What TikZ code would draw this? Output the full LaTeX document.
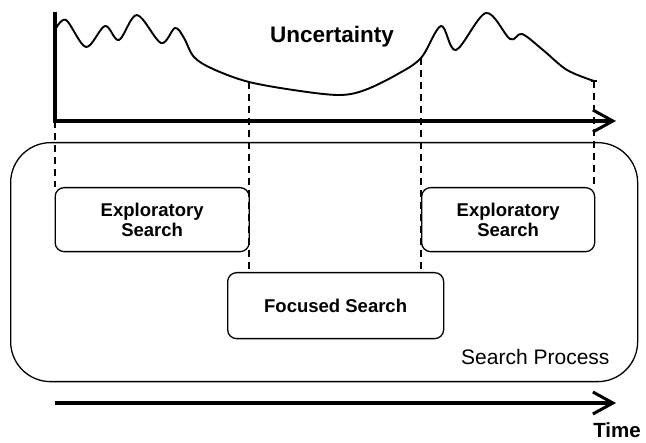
\documentclass[tikz,border=0pt]{standalone}
\usepackage{fontspec}
\setmainfont{Liberation Sans}
\usetikzlibrary{arrows.meta}
\begin{document}
\begin{tikzpicture}[x=1pt,y=-1pt,
  axis/.style={line width=3.6pt,-{Straight Barb[length=20pt,width=22pt,line width=3pt]}},
  guide/.style={line width=2.1pt,dash pattern=on 7pt off 5pt},
  phase/.style={draw,line width=1.3pt,rounded corners=9pt,align=center,
    font=\bfseries\fontsize{18.5}{20.5}\selectfont,inner sep=0pt},
  curve/.style={line width=1.9pt,line join=round}]
\useasboundingbox (0,0) rectangle (646,443);

% outer process frame
\node[draw,line width=1.3pt,rounded corners=40pt,minimum width=627pt,minimum height=239pt,anchor=north west]
  (proc) at (10,142) {};
\node[anchor=base east,font=\fontsize{21}{24}\selectfont] (proclabel) at (613,365) {Search Process};

% search phases
\node[phase,minimum width=194pt,minimum height=64pt,anchor=north west] (explA) at (54.5,187) {Exploratory\\Search};
\node[phase,minimum width=173pt,minimum height=64pt,anchor=north west] (explB) at (421,187) {Exploratory\\Search};
\node[phase,minimum width=216pt,minimum height=66pt,anchor=north west] (focus) at (227,272) {Focused Search};

% uncertainty axes
\coordinate (origin) at (55,121);
\coordinate (ytop) at (55,12);
\coordinate (xend) at (616,121);
\draw[line width=3.6pt] (ytop) -- ([yshift=-1.8pt]origin);
\draw[axis] ([xshift=-1.8pt]origin) -- (xend);
\node[font=\bfseries\fontsize{22.5}{26}\selectfont] (unc) at (332,37) {Uncertainty};

% uncertainty curve
\coordinate (c0) at (55,30);
\coordinate (c1) at (249,82);
\coordinate (c2) at (421,58);
\coordinate (c3) at (594,81);
\draw[curve] plot[smooth,tension=0.55] coordinates {
  (55,30) (66,20) (86,47) (105,26) (119,40) (137,15) (161,43) (175,28)
  (184,38) (194,57) (213,69) (249,82) (300,91) (340,95) (365,90)
  (396,75) (421,58) (441,26) (456,50) (486,13) (510,39) (522,34)
  (543,50) (567,70) (594,81)};
\draw[line width=1.5pt] ([xshift=-3pt]c3) -- ([xshift=3pt]c3);

% phase boundaries
\draw[guide] (origin) -- (explA.north west -| origin);
\draw[guide] (c1) -- (c1 |- focus.north);
\draw[guide] (c2) -- (c2 |- focus.north);
\draw[guide] (c3) -- (c3 |- explB.north);

% time axis
\coordinate (t0) at (55,403);
\coordinate (t1) at (616,403);
\draw[axis] (t0) -- (t1);
\node[font=\bfseries\fontsize{20.5}{24}\selectfont,anchor=base] (time) at (617,438) {Time};
\end{tikzpicture}
\end{document}
